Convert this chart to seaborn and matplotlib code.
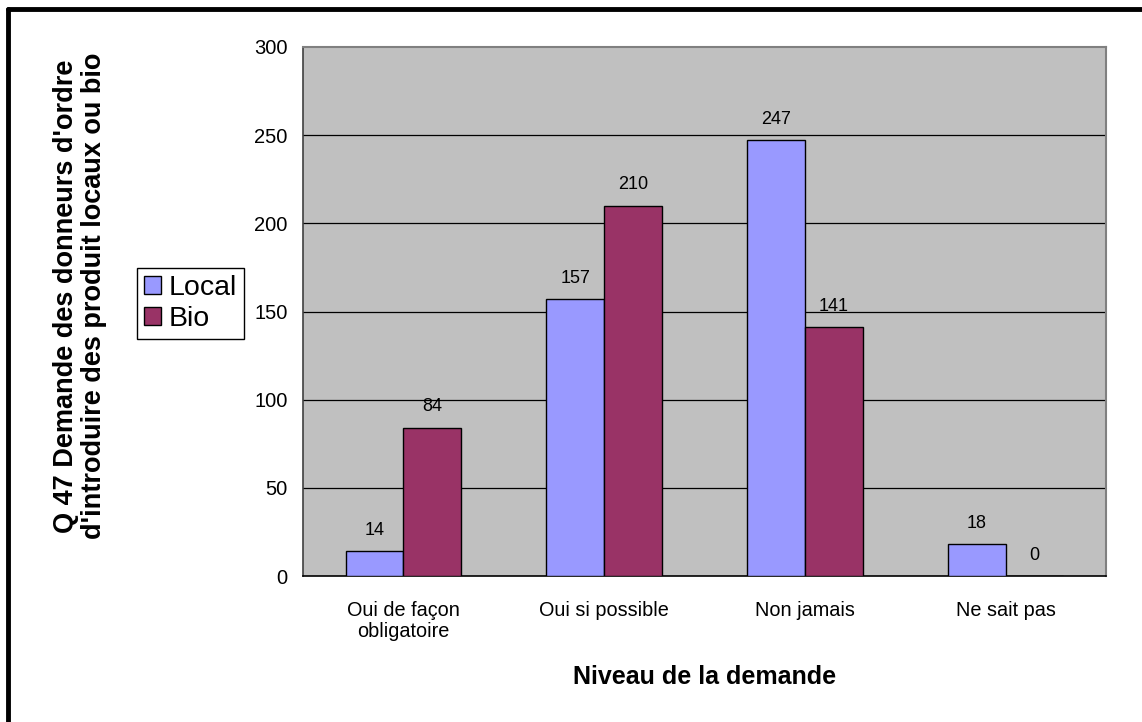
import matplotlib
matplotlib.use("Agg")
import matplotlib.pyplot as plt
import seaborn as sns
import pandas as pd
from matplotlib.lines import Line2D

categories = ["Oui de façon\nobligatoire", "Oui si possible", "Non jamais", "Ne sait pas"]
series_names = ["Local", "Bio"]
local_values = [14, 157, 247, 18]
bio_values = [84, 210, 141, 0]
y_ticks = [0, 50, 100, 150, 200, 250, 300]

colors = {"Local": "#9999FF", "Bio": "#993366"}

df = pd.DataFrame({
    "categorie": categories * 2,
    "serie": [series_names[0]] * len(categories) + [series_names[1]] * len(categories),
    "valeur": local_values + bio_values,
})

sns.set_style("white")
plt.rcParams["font.family"] = ["Liberation Sans", "DejaVu Sans"]
plt.rcParams["text.color"] = "black"
plt.rcParams["axes.labelcolor"] = "black"
plt.rcParams["xtick.color"] = "black"
plt.rcParams["ytick.color"] = "black"

W, H = 1142, 722
fig = plt.figure(figsize=(W / 100, H / 100), dpi=100)
ax = fig.add_axes([303 / W, 1 - 576 / H, (1106 - 303) / W, (576 - 47) / H])
ax.set_facecolor("#C0C0C0")

sns.barplot(data=df, x="categorie", y="valeur", hue="serie", order=categories,
            hue_order=series_names, palette=colors, width=0.575, dodge=True,
            edgecolor="black", linewidth=1.0, saturation=1, ax=ax, legend=True,
            zorder=3)

# value labels above each bar
for container in ax.containers:
    ax.bar_label(container, fmt="%d", padding=9, fontsize=13, color="black")

ax.set_ylim(0, 300)
ax.set_xlim(-0.5, len(categories) - 0.5)
ax.set_yticks(y_ticks)
ax.set_yticklabels([str(v) for v in y_ticks], fontsize=14.5, color="black")
for y in y_ticks[1:-1]:
    ax.axhline(y, color="black", linewidth=0.9, zorder=1)

# category ticks at group boundaries
ax.set_xticks([i - 0.5 for i in range(len(categories) + 1)], minor=False)
ax.set_xticklabels([""] * (len(categories) + 1))
ax.set_xticks(range(len(categories)), minor=True)
ax.set_xticklabels(categories, minor=True, fontsize=14.3, linespacing=1.15, color="black")
ax.tick_params(axis="x", which="major", direction="out", length=5, width=1, color="black")
ax.tick_params(axis="x", which="minor", length=0, pad=18)
ax.tick_params(axis="y", direction="out", length=5, width=1, color="black", pad=6)

ax.spines["bottom"].set_color("black")
ax.spines["bottom"].set_linewidth(1.2)
ax.spines["left"].set_color("#404040")
ax.spines["left"].set_linewidth(1.2)
ax.spines["top"].set_color("#808080")
ax.spines["top"].set_linewidth(1.5)
ax.spines["right"].set_color("#808080")
ax.spines["right"].set_linewidth(1.5)

ax.set_xlabel("")
ax.set_ylabel("")
fig.text(705 / W, 1 - 677 / H, "Niveau de la demande", fontsize=18, fontweight="bold",
         ha="center", va="center", color="black")
fig.text(80 / W, 1 - 296 / H,
         "Q 47 Demande des donneurs d'ordre\nd'introduire des produit locaux ou bio",
         fontsize=19.5, fontweight="bold", rotation=90, ha="center", va="center",
         linespacing=1.08, multialignment="center", color="black")

leg = ax.legend(loc="center left", bbox_to_anchor=(137 / W, 1 - 303.5 / H),
                bbox_transform=fig.transFigure, fontsize=20.5, frameon=True,
                fancybox=False, edgecolor="black", framealpha=1,
                handlelength=0.6, handleheight=0.6, handletextpad=0.25,
                borderpad=0.25, labelspacing=0.2, borderaxespad=0)
leg.get_frame().set_linewidth(1.0)
leg.get_frame().set_facecolor("white")
for t in leg.get_texts():
    t.set_color("black")

# outer frame along the top and left edges
fig.add_artist(Line2D([8 / W, 1], [1 - 9 / H, 1 - 9 / H], transform=fig.transFigure,
                      color="black", linewidth=3.5))
fig.add_artist(Line2D([8 / W, 8 / W], [0, 1 - 9 / H], transform=fig.transFigure,
                      color="black", linewidth=3.5))

fig.savefig("out.png", dpi=100, facecolor="white")
